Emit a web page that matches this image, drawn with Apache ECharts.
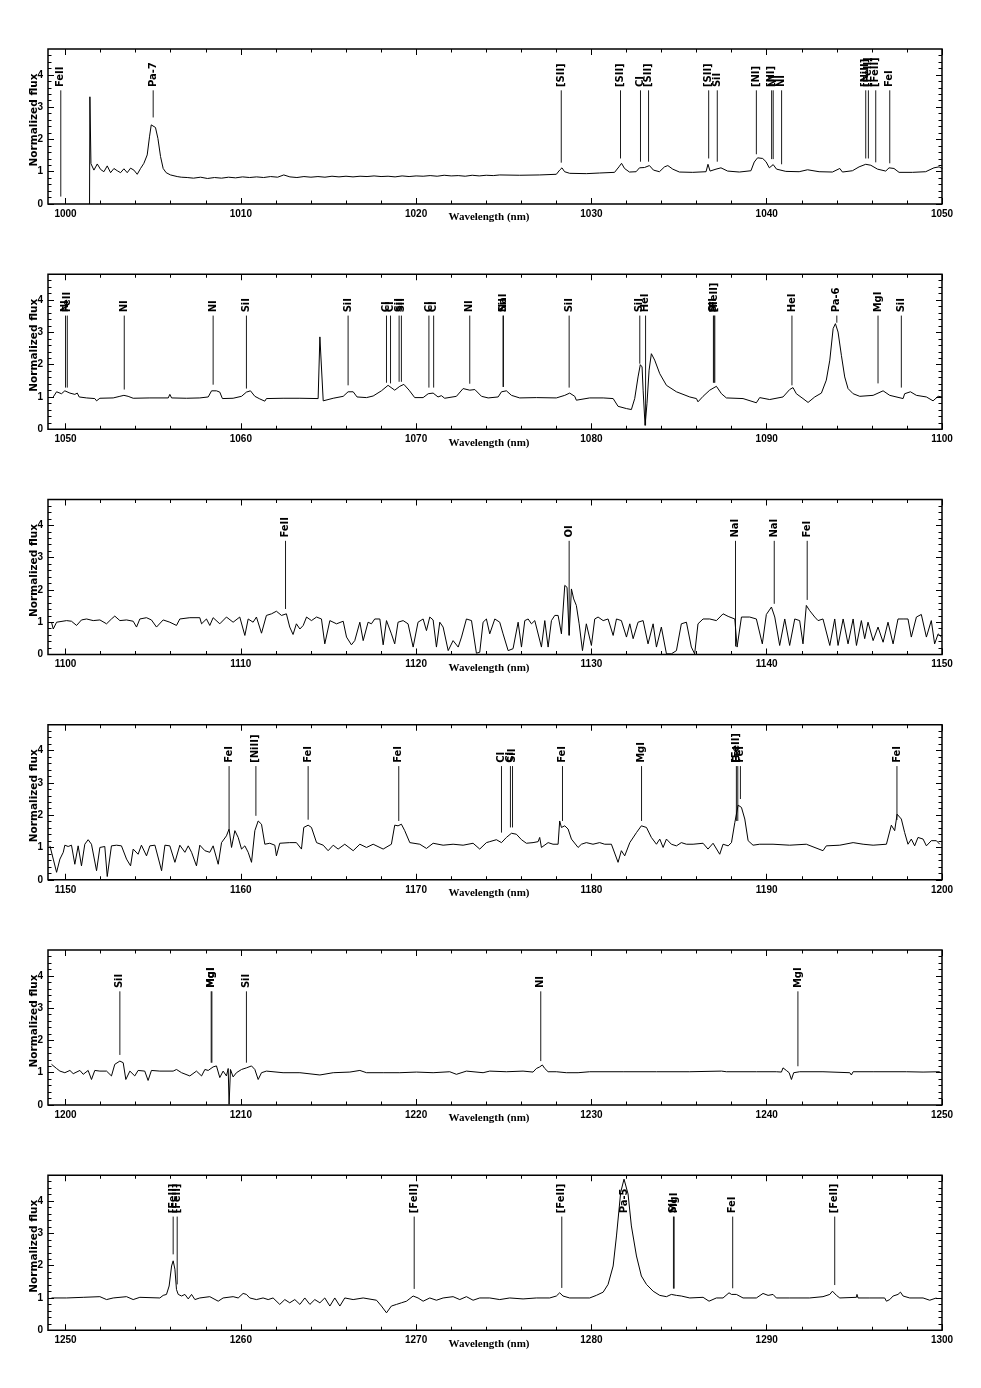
<!DOCTYPE html>
<html><head><meta charset="utf-8">
<script src="https://cdn.jsdelivr.net/npm/echarts@6/dist/echarts.min.js"></script>
<style>html,body{margin:0;padding:0;background:#fff}#c{width:981px;height:1388px}</style>
</head><body><div id="c"></div>
<script>
const panelStarts = [1000, 1050, 1100, 1150, 1200, 1250];
const yTickLabels = [0, 1, 2, 3, 4];
const xName = 'Wavelength (nm)';
const yName = 'Normalized flux';

const spec1 = [[1001.37,0],[1001.39,3.32],[1001.45,1.25],[1001.62,1.05],[1001.81,1.24],[1002.0,1.07],[1002.19,1.0],[1002.38,1.18],[1002.57,0.97],[1002.76,1.1],[1002.95,1.03],[1003.14,0.97],[1003.33,1.09],[1003.52,0.97],[1003.71,1.11],[1003.9,1.05],[1004.09,0.92],[1004.28,1.1],[1004.47,1.26],[1004.66,1.52],[1004.79,2.08],[1004.89,2.45],[1005.0,2.5],[1005.13,2.37],[1005.27,2.03],[1005.42,1.47],[1005.57,1.1],[1005.74,0.97],[1005.99,0.9],[1006.37,0.85],[1006.6,0.83],[1006.94,0.82],[1007.3,0.8],[1007.7,0.83],[1008.1,0.79],[1008.5,0.82],[1008.9,0.8],[1009.3,0.83],[1009.7,0.81],[1010.1,0.84],[1010.5,0.82],[1010.9,0.84],[1011.3,0.82],[1011.7,0.85],[1012.1,0.83],[1012.45,0.9],[1012.8,0.84],[1013.2,0.82],[1013.6,0.85],[1014.0,0.83],[1014.4,0.85],[1014.8,0.83],[1015.2,0.86],[1015.6,0.84],[1016.0,0.86],[1016.4,0.84],[1016.8,0.86],[1017.2,0.85],[1017.6,0.87],[1018.0,0.85],[1018.4,0.86],[1018.8,0.84],[1019.2,0.87],[1019.6,0.85],[1020.0,0.87],[1020.4,0.86],[1020.8,0.88],[1021.2,0.86],[1021.6,0.89],[1022.0,0.87],[1022.4,0.88],[1022.8,0.86],[1023.2,0.89],[1023.6,0.87],[1024.0,0.89],[1024.4,0.88],[1024.77,0.9],[1025.91,0.89],[1027.05,0.9],[1028.0,0.92],[1028.19,1.05],[1028.32,1.12],[1028.47,1.0],[1028.76,0.95],[1029.71,0.94],[1030.46,0.96],[1031.32,0.98],[1031.57,1.15],[1031.72,1.26],[1031.89,1.1],[1032.17,0.99],[1032.55,1.0],[1032.74,1.12],[1033.03,1.13],[1033.31,1.19],[1033.54,1.05],[1033.88,1.0],[1034.17,1.15],[1034.36,1.19],[1034.64,1.08],[1035.02,0.99],[1035.78,0.98],[1036.54,1.0],[1036.65,1.23],[1036.77,1.02],[1037.11,1.08],[1037.39,1.12],[1037.77,1.02],[1038.44,0.99],[1039.1,1.03],[1039.29,1.3],[1039.48,1.43],[1039.77,1.41],[1039.96,1.31],[1040.15,1.12],[1040.37,1.22],[1040.56,1.08],[1041.09,1.01],[1041.85,1.0],[1042.33,1.06],[1042.99,1.0],[1043.75,0.99],[1044.17,1.1],[1044.32,0.99],[1044.89,1.03],[1045.27,1.15],[1045.65,1.23],[1045.94,1.2],[1046.32,1.08],[1046.79,1.02],[1046.98,1.12],[1047.26,1.1],[1047.55,0.98],[1048.31,0.98],[1049.07,1.0],[1049.54,1.12],[1049.83,1.15],[1050.02,1.1]];

const spec2 = [[1049.3,1.0],[1049.49,1.16],[1049.77,1.1],[1049.96,1.19],[1050.25,1.12],[1050.53,1.08],[1050.67,1.12],[1050.78,1.0],[1051.2,0.97],[1051.67,0.95],[1051.77,0.88],[1051.96,0.96],[1052.72,0.97],[1053.1,1.02],[1053.33,1.05],[1053.57,1.02],[1053.86,0.96],[1054.81,0.97],[1055.86,0.97],[1055.95,1.08],[1056.05,0.97],[1056.9,0.96],[1057.66,0.97],[1058.14,1.0],[1058.33,1.19],[1058.61,1.19],[1058.8,1.15],[1058.95,0.95],[1059.56,0.96],[1060.04,1.02],[1060.32,1.15],[1060.55,1.19],[1060.8,1.02],[1061.08,0.94],[1061.37,0.87],[1061.46,0.95],[1062.41,0.96],[1063.37,0.96],[1064.41,0.95],[1064.51,2.86],[1064.6,2.89],[1064.7,0.88],[1065.27,0.96],[1065.84,1.02],[1066.12,1.16],[1066.41,1.16],[1066.63,1.0],[1067.17,0.98],[1067.55,1.03],[1068.02,1.19],[1068.4,1.36],[1068.78,1.21],[1069.07,1.33],[1069.3,1.39],[1069.6,1.21],[1069.92,0.98],[1070.4,0.98],[1070.69,1.1],[1070.97,1.12],[1071.25,1.0],[1071.44,1.04],[1071.63,0.96],[1072.3,1.02],[1072.68,1.26],[1073.06,1.21],[1073.35,1.23],[1073.73,1.02],[1074.11,0.97],[1074.68,1.0],[1074.87,1.16],[1075.15,1.19],[1075.44,1.05],[1075.91,0.97],[1076.86,0.98],[1078.0,0.97],[1078.48,1.05],[1078.76,1.12],[1079.05,1.02],[1079.14,0.9],[1079.9,0.97],[1080.67,0.97],[1081.24,0.95],[1081.52,0.71],[1082.0,0.64],[1082.28,0.61],[1082.47,0.95],[1082.66,1.62],[1082.79,2.0],[1082.89,1.93],[1082.95,1.21],[1083.06,0.12],[1083.17,0.79],[1083.29,1.83],[1083.42,2.34],[1083.61,2.14],[1083.9,1.72],[1084.28,1.36],[1084.85,1.16],[1085.61,1.0],[1085.99,0.95],[1086.08,0.85],[1086.37,1.02],[1086.75,1.21],[1087.13,1.33],[1087.42,1.1],[1087.7,0.97],[1088.65,0.95],[1089.41,0.82],[1089.6,0.98],[1090.17,0.92],[1090.93,1.0],[1091.31,1.23],[1091.5,1.29],[1091.69,1.1],[1092.07,0.95],[1092.36,0.83],[1092.74,1.0],[1093.12,1.12],[1093.4,1.52],[1093.6,2.14],[1093.79,3.12],[1093.92,3.27],[1094.07,3.01],[1094.26,2.29],[1094.45,1.62],[1094.64,1.26],[1094.93,1.1],[1095.31,1.02],[1096.07,1.05],[1096.64,1.19],[1097.02,1.05],[1097.78,0.95],[1097.87,1.1],[1098.2,1.16],[1098.54,1.05],[1099.11,1.0],[1099.49,0.88],[1099.78,1.02],[1100.0,1.0]];

const spec3 = [[1099.2,1.0],[1099.3,0.79],[1099.49,1.0],[1100.06,1.05],[1100.34,1.03],[1100.63,0.9],[1100.91,1.07],[1101.2,1.1],[1101.58,1.05],[1101.96,1.07],[1102.34,0.95],[1102.62,1.1],[1102.81,1.19],[1103.1,1.05],[1103.48,1.07],[1103.86,1.03],[1104.05,0.85],[1104.24,1.1],[1104.62,1.14],[1104.9,1.07],[1105.19,0.85],[1105.57,1.07],[1105.95,1.0],[1106.33,0.9],[1106.52,1.1],[1107.09,1.14],[1107.66,1.14],[1107.76,0.95],[1108.04,1.1],[1108.23,0.9],[1108.42,1.14],[1108.8,0.95],[1109.18,1.16],[1109.56,1.0],[1109.94,1.16],[1110.23,0.59],[1110.42,1.1],[1110.7,1.0],[1110.89,1.16],[1111.18,0.66],[1111.46,1.21],[1111.75,1.26],[1112.03,1.34],[1112.32,1.21],[1112.6,1.26],[1112.79,0.85],[1112.98,0.62],[1113.17,0.95],[1113.37,0.79],[1113.56,0.9],[1113.75,1.16],[1114.03,1.05],[1114.32,1.16],[1114.6,1.1],[1114.79,0.33],[1115.08,1.05],[1115.46,0.95],[1115.84,1.03],[1116.03,0.54],[1116.31,0.3],[1116.5,0.43],[1116.79,1.0],[1116.98,0.43],[1117.26,1.0],[1117.45,0.95],[1117.64,1.1],[1117.93,1.1],[1118.12,0.3],[1118.31,1.05],[1118.59,0.64],[1118.78,0.33],[1118.97,1.0],[1119.26,1.05],[1119.54,0.95],[1119.83,0.23],[1120.11,1.0],[1120.4,1.1],[1120.59,0.74],[1120.78,1.16],[1120.97,1.07],[1121.16,0.23],[1121.35,1.0],[1121.54,0.85],[1121.83,0.12],[1122.11,0.43],[1122.4,0.23],[1122.59,0.54],[1122.87,1.1],[1123.16,1.05],[1123.44,0.04],[1123.63,0.07],[1123.82,1.0],[1124.01,1.1],[1124.2,0.64],[1124.49,1.1],[1124.77,1.0],[1124.96,0.64],[1125.25,0.12],[1125.53,0.18],[1125.82,1.0],[1126.01,0.23],[1126.2,1.05],[1126.39,1.1],[1126.58,0.95],[1126.77,1.05],[1127.15,0.23],[1127.34,1.05],[1127.53,0.23],[1127.72,1.05],[1127.91,1.21],[1128.1,1.21],[1128.29,0.64],[1128.48,2.14],[1128.61,2.08],[1128.73,0.59],[1128.86,2.03],[1128.99,1.72],[1129.14,1.52],[1129.3,0.95],[1129.49,0.12],[1129.71,0.95],[1130.0,0.28],[1130.19,1.1],[1130.38,1.16],[1130.67,1.05],[1130.95,1.1],[1131.24,0.59],[1131.43,1.1],[1131.71,1.05],[1132.0,0.54],[1132.19,0.95],[1132.38,0.49],[1132.66,1.0],[1132.95,1.05],[1133.23,0.33],[1133.52,0.95],[1133.71,0.23],[1133.99,0.85],[1134.28,0.02],[1134.56,0.02],[1134.85,0.12],[1135.13,0.95],[1135.42,1.0],[1135.7,0.23],[1135.89,0.02],[1136.08,0.95],[1136.37,1.1],[1136.75,1.1],[1137.13,1.05],[1137.51,1.26],[1137.8,1.18],[1138.18,1.1],[1138.31,0.23],[1138.56,1.16],[1139.03,1.16],[1139.41,1.1],[1139.75,0.33],[1139.98,1.24],[1140.27,1.47],[1140.46,1.16],[1140.74,0.28],[1141.03,1.1],[1141.31,0.28],[1141.6,1.1],[1141.88,1.05],[1142.07,0.33],[1142.26,1.52],[1142.45,1.36],[1142.74,1.16],[1142.93,1.05],[1143.21,1.1],[1143.6,0.28],[1143.88,1.1],[1144.07,0.28],[1144.36,1.1],[1144.64,0.33],[1144.93,1.1],[1145.12,0.28],[1145.4,1.05],[1145.59,0.49],[1145.78,1.0],[1146.07,0.43],[1146.35,0.85],[1146.64,0.38],[1146.92,1.0],[1147.21,0.33],[1147.49,1.1],[1147.78,1.1],[1148.06,1.1],[1148.25,0.54],[1148.54,1.16],[1148.82,1.24],[1149.11,0.54],[1149.39,1.05],[1149.58,0.33],[1149.78,0.64],[1149.97,0.54]];

const spec4 = [[1149.11,1.05],[1149.3,0.64],[1149.49,0.23],[1149.68,0.64],[1149.87,0.85],[1149.96,1.07],[1150.15,1.03],[1150.34,1.07],[1150.53,0.48],[1150.72,1.05],[1150.91,0.43],[1151.1,1.1],[1151.29,1.24],[1151.48,1.1],[1151.77,0.28],[1151.96,1.0],[1152.24,1.03],[1152.38,0.1],[1152.62,1.05],[1152.91,1.07],[1153.19,1.05],[1153.48,0.64],[1153.71,0.43],[1153.86,0.95],[1154.14,0.79],[1154.33,1.07],[1154.62,0.74],[1154.81,1.05],[1155.1,1.07],[1155.48,0.28],[1155.67,1.07],[1155.95,1.05],[1156.24,0.54],[1156.52,1.07],[1156.81,0.85],[1157.0,1.05],[1157.19,0.85],[1157.47,0.43],[1157.66,1.07],[1157.95,0.9],[1158.23,0.85],[1158.42,1.05],[1158.71,0.48],[1158.9,1.15],[1159.18,1.36],[1159.33,1.57],[1159.47,1.0],[1159.66,1.52],[1159.85,1.31],[1160.04,0.95],[1160.23,1.05],[1160.42,0.85],[1160.61,0.54],[1160.8,1.52],[1160.99,1.82],[1161.18,1.72],[1161.37,1.1],[1161.65,1.13],[1161.94,1.07],[1162.03,0.74],[1162.22,1.13],[1162.79,1.15],[1163.17,1.15],[1163.46,0.95],[1163.59,1.62],[1163.84,1.69],[1164.03,1.62],[1164.32,1.15],[1164.7,1.07],[1164.98,0.9],[1165.27,1.07],[1165.55,0.95],[1165.93,1.1],[1166.41,0.9],[1166.79,1.1],[1167.17,1.0],[1167.55,1.1],[1168.12,0.95],[1168.59,1.1],[1168.78,1.69],[1168.97,1.67],[1169.16,1.72],[1169.35,1.52],[1169.64,1.15],[1170.21,1.1],[1170.59,0.97],[1170.97,1.13],[1171.54,1.07],[1172.11,1.1],[1172.68,1.07],[1173.25,1.13],[1173.63,0.95],[1174.01,1.15],[1174.2,1.18],[1174.58,1.24],[1174.87,1.15],[1175.15,1.31],[1175.44,1.44],[1175.72,1.41],[1176.01,1.24],[1176.29,1.13],[1176.67,1.15],[1176.96,1.18],[1177.05,1.31],[1177.15,1.0],[1177.53,1.15],[1177.81,1.1],[1178.1,1.1],[1178.19,1.82],[1178.29,1.62],[1178.48,1.67],[1178.67,1.57],[1178.86,1.26],[1179.24,1.0],[1179.43,1.1],[1179.71,1.15],[1180.09,1.1],[1180.47,1.15],[1180.76,1.1],[1181.14,1.1],[1181.52,0.54],[1181.71,0.9],[1181.9,0.74],[1182.19,1.15],[1182.57,1.46],[1182.85,1.67],[1183.14,1.62],[1183.42,1.31],[1183.71,1.1],[1183.9,1.26],[1184.09,1.0],[1184.28,1.26],[1184.56,1.1],[1184.85,1.05],[1185.13,1.15],[1185.42,1.1],[1185.8,1.1],[1186.37,1.13],[1186.65,0.95],[1186.94,1.13],[1187.32,0.79],[1187.51,1.1],[1187.8,1.05],[1187.99,1.15],[1188.18,1.77],[1188.37,2.31],[1188.56,2.24],[1188.75,1.88],[1188.94,1.21],[1189.22,1.07],[1189.6,1.1],[1190.36,1.1],[1191.31,1.07],[1192.26,1.1],[1193.21,0.9],[1193.4,1.05],[1194.17,1.07],[1194.93,1.15],[1195.5,1.1],[1196.07,1.07],[1196.83,1.1],[1197.11,1.69],[1197.3,1.52],[1197.44,2.03],[1197.68,1.88],[1197.87,1.46],[1198.06,1.1],[1198.25,1.26],[1198.44,1.05],[1198.63,1.31],[1198.92,1.26],[1199.11,1.05],[1199.39,1.21],[1199.68,1.21],[1199.87,1.1]];

const spec5 = [[1199.2,1.26],[1199.49,1.13],[1199.68,1.05],[1199.96,1.0],[1200.25,1.07],[1200.44,0.97],[1200.82,1.07],[1201.01,0.95],[1201.29,1.07],[1201.48,0.79],[1201.67,1.07],[1201.96,1.05],[1202.34,1.05],[1202.62,0.9],[1202.81,1.26],[1203.1,1.36],[1203.29,1.31],[1203.44,0.79],[1203.67,1.05],[1203.95,0.9],[1204.14,1.07],[1204.52,1.05],[1204.71,0.76],[1204.9,1.07],[1205.38,1.05],[1206.14,1.05],[1206.33,1.1],[1206.62,1.0],[1207.09,0.9],[1207.47,1.05],[1207.76,0.9],[1207.95,1.1],[1208.14,1.07],[1208.42,1.18],[1208.61,1.21],[1208.8,0.85],[1208.99,1.05],[1209.18,0.9],[1209.28,1.13],[1209.33,0.02],[1209.41,1.1],[1209.56,0.87],[1209.75,1.0],[1210.04,1.1],[1210.32,1.15],[1210.61,1.21],[1210.8,1.1],[1210.99,0.79],[1211.18,1.0],[1211.46,1.05],[1212.41,1.0],[1213.37,1.0],[1214.51,0.93],[1215.27,1.0],[1216.22,1.02],[1216.79,1.07],[1217.17,1.0],[1218.12,1.0],[1219.07,1.0],[1220.02,1.02],[1220.97,1.0],[1221.92,1.03],[1222.3,0.95],[1222.87,1.05],[1223.82,1.0],[1224.2,1.05],[1225.15,1.03],[1226.1,1.05],[1226.67,1.02],[1226.86,1.13],[1227.05,1.18],[1227.2,1.24],[1227.34,1.13],[1227.53,1.03],[1228.0,1.03],[1228.57,1.0],[1229.24,1.0],[1229.9,1.03],[1231.81,1.03],[1233.71,1.03],[1235.61,1.03],[1237.42,1.05],[1237.51,1.1],[1237.7,1.03],[1239.41,1.03],[1240.55,1.03],[1240.84,1.02],[1240.93,1.15],[1241.12,1.07],[1241.28,1.0],[1241.41,0.79],[1241.54,1.0],[1241.88,1.03],[1243.21,1.03],[1244.74,1.0],[1244.83,0.93],[1244.93,1.03],[1246.07,1.03],[1247.97,1.03],[1248.92,1.02],[1249.87,1.03]];

const spec6 = [[1249.2,1.0],[1250.06,1.0],[1251.01,1.02],[1251.96,1.04],[1252.34,0.95],[1252.72,1.0],[1253.48,1.04],[1253.86,0.95],[1254.24,1.02],[1255.38,1.0],[1255.57,1.08],[1255.76,1.11],[1255.91,1.37],[1256.05,1.99],[1256.14,2.15],[1256.24,1.89],[1256.33,1.26],[1256.43,1.11],[1256.62,1.06],[1256.81,1.11],[1257.0,0.97],[1257.19,1.11],[1257.38,0.95],[1257.66,1.0],[1258.23,1.04],[1258.71,0.9],[1258.99,1.0],[1259.56,1.04],[1259.85,1.0],[1260.13,1.14],[1260.32,1.11],[1260.51,1.0],[1260.89,0.95],[1261.27,1.0],[1261.56,0.95],[1261.84,1.0],[1262.22,0.8],[1262.51,0.95],[1262.79,0.85],[1263.08,0.95],[1263.37,0.8],[1263.65,1.0],[1263.94,0.8],[1264.22,0.95],[1264.51,0.85],[1264.79,1.0],[1265.08,0.75],[1265.36,1.0],[1265.65,0.75],[1265.93,1.0],[1266.41,0.95],[1266.98,1.0],[1267.74,0.93],[1268.02,0.75],[1268.31,0.54],[1268.59,0.75],[1268.88,0.8],[1269.16,0.85],[1269.45,0.9],[1269.83,1.06],[1270.11,1.0],[1270.4,0.9],[1270.78,1.0],[1271.16,0.93],[1271.54,1.0],[1272.11,1.04],[1272.49,0.95],[1272.87,1.04],[1273.25,0.93],[1273.63,1.0],[1274.2,1.0],[1274.77,0.95],[1275.34,1.0],[1276.1,0.97],[1276.86,1.0],[1277.62,1.0],[1278.0,1.06],[1278.19,1.16],[1278.38,1.06],[1278.76,1.0],[1279.9,1.0],[1280.28,1.08],[1280.67,1.18],[1280.95,1.42],[1281.24,1.99],[1281.43,2.92],[1281.67,4.27],[1281.86,4.68],[1282.09,4.22],[1282.28,3.23],[1282.57,2.3],[1282.85,1.68],[1283.14,1.42],[1283.52,1.21],[1283.9,1.08],[1284.28,1.04],[1284.56,1.11],[1284.85,1.08],[1285.13,1.06],[1285.61,1.0],[1286.37,1.02],[1286.71,0.9],[1287.13,1.0],[1287.51,1.0],[1287.85,1.16],[1287.99,1.11],[1288.27,1.11],[1288.65,1.0],[1289.41,1.0],[1289.79,1.14],[1290.08,1.08],[1290.36,1.11],[1290.55,1.0],[1291.31,1.0],[1292.45,1.0],[1293.21,1.04],[1293.6,1.11],[1293.75,1.21],[1293.98,1.08],[1294.17,1.0],[1295.12,1.02],[1295.15,1.11],[1295.21,1.0],[1295.88,1.0],[1296.73,1.0],[1296.83,0.9],[1297.02,0.95],[1297.21,1.06],[1297.49,1.11],[1297.63,1.18],[1297.78,1.06],[1298.16,1.0],[1298.92,1.0],[1299.3,0.93],[1299.68,1.0]];

// line identifications: [wavelength, lower end of marker line (flux), label]
const lines1 = [[999.73,0.23,'FeII'],[1005.0,2.68,'Pa-7'],[1028.28,1.28,'[SII]'],[1031.66,1.41,'[SII]'],[1032.8,1.31,'CI'],[1033.26,1.31,'[SII]'],[1036.69,1.41,'[SII]'],[1037.18,1.31,'SiI'],[1039.41,1.54,'[NI]'],[1040.28,1.39,'[NI]'],[1040.37,1.39,'NI'],[1040.85,1.23,'NI'],[1045.65,1.41,'[NiII]'],[1045.8,1.41,'[FeII]'],[1046.22,1.29,'[FeII]'],[1047.02,1.26,'FeI']];
const lines2 = [[1050.0,1.29,'NI'],[1050.1,1.29,'FeII'],[1053.35,1.23,'NI'],[1058.42,1.38,'NI'],[1060.32,1.26,'SiI'],[1066.12,1.36,'SiI'],[1068.31,1.44,'CI'],[1068.54,1.42,'CI'],[1069.03,1.47,'SiI'],[1069.16,1.47,'SiI'],[1070.73,1.29,'CI'],[1071.0,1.29,'CI'],[1073.06,1.41,'NI'],[1074.96,1.31,'SiI'],[1074.98,1.31,'NaI'],[1078.73,1.29,'SiI'],[1082.76,2.03,'SiI'],[1083.09,0.12,'HeI'],[1086.96,1.44,'SiI'],[1087.0,1.44,'PI'],[1087.04,1.44,'[FeII]'],[1091.44,1.36,'HeI'],[1094.0,3.3,'Pa-6'],[1096.35,1.42,'MgI'],[1097.68,1.29,'SiI']];
const lines3 = [[1112.55,1.41,'FeII'],[1128.73,0.6,'OI'],[1138.22,0.25,'NaI'],[1140.43,1.57,'NaI'],[1142.31,1.69,'FeI']];
const lines4 = [[1159.33,1.57,'FeI'],[1160.86,1.98,'[NiII]'],[1163.84,1.86,'FeI'],[1169.01,1.82,'FeI'],[1174.87,1.46,'CI'],[1175.38,1.62,'CI'],[1175.5,1.62,'SiI'],[1178.35,1.82,'FeI'],[1182.86,1.82,'MgI'],[1188.27,1.82,'[FeII]'],[1188.35,1.82,'FeI'],[1188.5,2.5,'FeI'],[1197.43,1.85,'FeI']];
const lines5 = [[1203.1,1.55,'SiI'],[1208.31,1.31,'MgI'],[1208.35,1.31,'MgI'],[1210.32,1.31,'SiI'],[1227.11,1.36,'NI'],[1241.78,1.2,'MgI']];
const lines6 = [[1256.14,2.35,'[FeII]'],[1256.37,1.42,'[FeII]'],[1269.89,1.28,'[FeII]'],[1278.31,1.31,'[FeII]'],[1281.89,4.7,'Pa-5'],[1284.68,1.29,'SiI'],[1284.72,1.29,'MgI'],[1288.06,1.3,'FeI'],[1293.88,1.4,'[FeII]']];

const spectra = [spec1, spec2, spec3, spec4, spec5, spec6];
const lineLists = [lines1, lines2, lines3, lines4, lines5, lines6];

const Y_MAX = 4.8, LABEL_Y = 3.62, LINE_TOP = 3.52;
const grids = [], xAxes = [], yAxes = [], series = [];
const black = '#000';
const tickFont = {color: black, fontFamily: 'Liberation Sans', fontWeight: 'bold', fontSize: 10,
  formatter: v => String(Math.round(v))};

panelStarts.forEach((N, i) => {
  grids.push({left: 48, top: 49 + 225.25 * i, width: 894, height: 155, show: true,
    borderColor: black, borderWidth: 1.5, backgroundColor: 'transparent'});
  const xMajor = [], xMinor = [];
  for (let v = N; v <= N + 50; v += 10) xMajor.push(v);
  for (let v = N; v <= N + 50; v += 2) if ((v - N) % 10 !== 0) xMinor.push(v);
  const yMinor = [];
  for (let k = 1; k < 24; k++) if (k % 5 !== 0) yMinor.push(Math.round(k * 2) / 10);
  const xb = {gridIndex: i, type: 'value', min: N - 1, max: N + 50,
    splitLine: {show: false}, axisLine: {show: false, onZero: false}};
  const yb = {gridIndex: i, type: 'value', min: 0, max: Y_MAX,
    splitLine: {show: false}, axisLine: {show: false, onZero: false}};
  const tick = (vals, len) => ({show: true, inside: true, length: len, customValues: vals,
    lineStyle: {color: black, width: 1}});
  xAxes.push(Object.assign({}, xb, {position: 'bottom', axisTick: tick(xMajor, 6),
    axisLabel: Object.assign({show: true, customValues: xMajor, margin: 5}, tickFont),
    name: xName, nameLocation: 'middle', nameGap: 8, nameMoveOverlap: false,
    nameTextStyle: {color: black, fontFamily: 'Liberation Serif', fontWeight: 'bold', fontSize: 11, padding: [0, 12, 0, 0]}}));
  xAxes.push(Object.assign({}, xb, {position: 'bottom', axisTick: tick(xMinor, 3.5), axisLabel: {show: false}}));
  xAxes.push(Object.assign({}, xb, {position: 'top', axisTick: tick(xMajor, 6), axisLabel: {show: false}}));
  xAxes.push(Object.assign({}, xb, {position: 'top', axisTick: tick(xMinor, 3.5), axisLabel: {show: false}}));
  yAxes.push(Object.assign({}, yb, {position: 'left', axisTick: tick(yTickLabels, 6),
    axisLabel: Object.assign({show: true, customValues: yTickLabels, margin: 5}, tickFont),
    name: yName, nameLocation: 'middle', nameGap: 8, nameRotate: 90, nameMoveOverlap: false,
    nameTextStyle: {color: black, fontFamily: 'DejaVu Sans', fontWeight: 'bold', fontSize: 10.5, padding: [0, 0, 0, 13]}}));
  yAxes.push(Object.assign({}, yb, {position: 'left', axisTick: tick(yMinor, 3.5), axisLabel: {show: false}}));
  yAxes.push(Object.assign({}, yb, {position: 'right', axisTick: tick(yTickLabels, 6), axisLabel: {show: false}}));
  yAxes.push(Object.assign({}, yb, {position: 'right', axisTick: tick(yMinor, 3.5), axisLabel: {show: false}}));

  series.push({type: 'line', xAxisIndex: 4 * i, yAxisIndex: 4 * i, data: spectra[i],
    showSymbol: false, symbol: 'none', lineStyle: {color: black, width: 1}, clip: true,
    animation: false, silent: true, z: 3});
  const ll = lineLists[i];
  series.push({type: 'custom', xAxisIndex: 4 * i, yAxisIndex: 4 * i,
    data: ll.map(d => [d[0], d[1]]), encode: {x: 0, y: 1}, clip: false, animation: false, silent: true, z: 4,
    renderItem: function (params, api) {
      const wl = api.value(0), bot = api.value(1);
      const pText = api.coord([wl, LABEL_Y]);
      const pTop = api.coord([wl, LINE_TOP]);
      const pBot = api.coord([wl, bot]);
      const children = [];
      if (bot < LINE_TOP) children.push({type: 'line',
        shape: {x1: pTop[0], y1: pTop[1], x2: pBot[0], y2: pBot[1]},
        style: {stroke: black, lineWidth: 0.9}});
      children.push({type: 'text', x: pText[0], y: pText[1], rotation: Math.PI / 2,
        style: {text: ll[params.dataIndex][2], x: 0, y: 0, align: 'left', verticalAlign: 'middle',
          font: 'bold 10px "DejaVu Sans"', fill: black}});
      return {type: 'group', children: children};
    }});
});

const chart = echarts.init(document.getElementById('c'), null, {renderer: 'canvas'});
chart.setOption({animation: false, backgroundColor: '#fff', grid: grids, xAxis: xAxes, yAxis: yAxes, series: series});
</script></body></html>
